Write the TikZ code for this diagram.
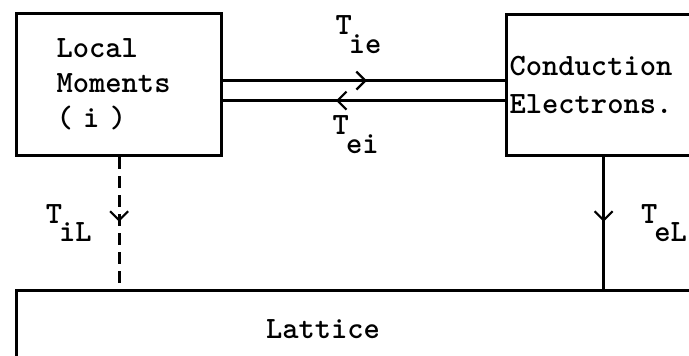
\documentclass[tikz,border=0pt]{standalone}
\usetikzlibrary{arrows.meta,positioning,decorations.markings}
\newcommand{\Tsub}[1]{T\kern-1.5pt\raisebox{-0.6em}{#1}}
\tikzset{
  box/.style={draw, line width=1.6pt, inner sep=0pt},
  conn/.style={line width=1.4pt},
  midarrow/.style={postaction={decorate}, decoration={markings,
      mark=at position #1 with {\arrow{Straight Barb[length=4.5pt,width=9pt,line width=1.1pt]}}}},
  tlabel/.style={inner sep=0pt}
}
\begin{document}
\begin{tikzpicture}[x=0.5pt, y=-0.5pt,
    every node/.style={font=\fontsize{15.5}{17.5}\selectfont\ttfamily\bfseries}]
  \useasboundingbox (0,0) rectangle (689,356);
  \node[box, anchor=north west, minimum width=102.5pt, minimum height=71pt,
        text width=62.5pt, inner xsep=20pt, align=left] (lm) at (15,12)
        {Local\\Moments\\( i )};
  \node[box, anchor=north west, minimum width=97pt, minimum height=70.5pt,
        text width=94pt, inner xsep=1.5pt, align=left] (ce) at (505,13)
        {Conduction\\[1.5pt]Electrons.};
  \node[box, anchor=north west, minimum width=350pt, minimum height=50pt] (lat) at (15,289) {};
  \node (lattxt) at (323,329) {Lattice};
  % exchange between the two spin systems
  \draw[conn, midarrow=0.51] ([yshift=2pt]lm.east) -- ([yshift=2pt]lm.east -| ce.west)
    node[tlabel, pos=0.48, above=13pt] (tie) {\Tsub{ie}};
  \draw[conn, midarrow=0.6] ([yshift=-8pt]lm.east -| ce.west) -- ([yshift=-8pt]lm.east)
    node[tlabel, pos=0.53, below=7pt] (tei) {\Tsub{ei}};
  % relaxation to the lattice
  \draw[conn, dash pattern=on 6pt off 3.5pt, midarrow=0.49] (lm.south) -- (lm.south |- lat.north)
    node[tlabel, pos=0.5, left=13pt] (til) {\Tsub{iL}};
  \draw[conn, midarrow=0.49] (ce.south) -- (ce.south |- lat.north)
    node[tlabel, pos=0.5, right=18pt] (tel) {\Tsub{eL}};
\end{tikzpicture}
\end{document}
